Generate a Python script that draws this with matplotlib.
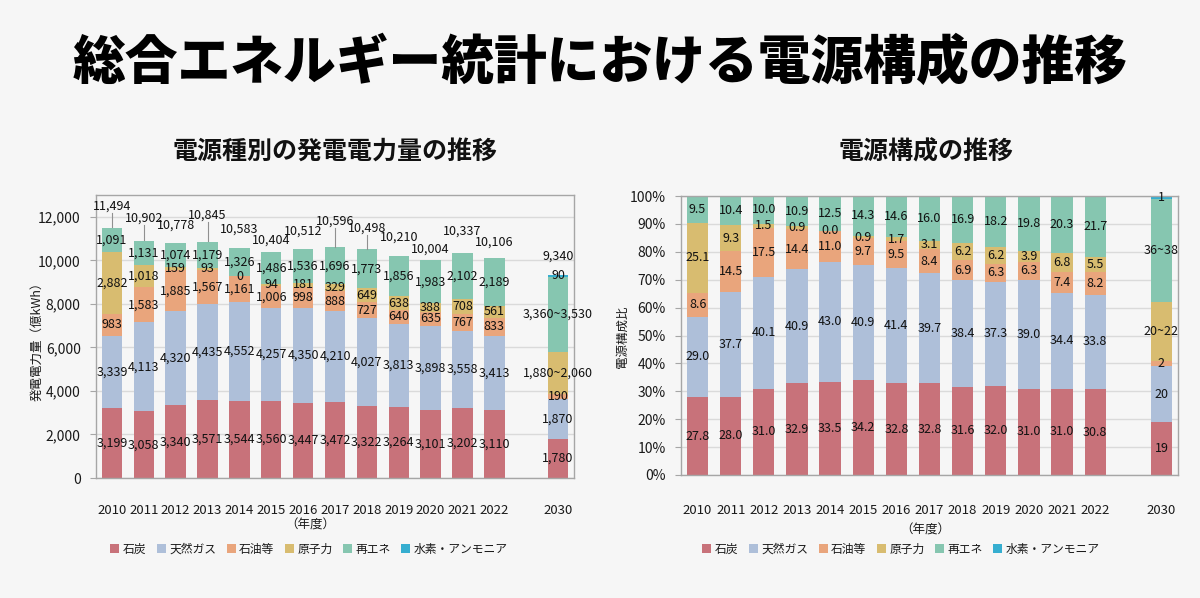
import numpy as np
import matplotlib.pyplot as plt
from matplotlib.patches import Patch

plt.rcParams['font.family'] = ['Noto Sans CJK JP', 'DejaVu Sans']

# Data
years = ['2010', '2011', '2012', '2013', '2014', '2015', '2016', '2017',
         '2018', '2019', '2020', '2021', '2022', '2030']
sources = ['石炭', '天然ガス', '石油等', '原子力', '再エネ', '水素・アンモニア']

# 発電電力量（億kWh）, 2030 ranges drawn at their mid value
coal_kwh = [3199, 3058, 3340, 3571, 3544, 3560, 3447, 3472, 3322, 3264, 3101, 3202, 3110, 1780]
gas_kwh = [3339, 4113, 4320, 4435, 4552, 4257, 4350, 4210, 4027, 3813, 3898, 3558, 3413, 1870]
oil_kwh = [983, 1583, 1885, 1567, 1161, 1006, 998, 888, 727, 640, 635, 767, 833, 190]
nuclear_kwh = [2882, 1018, 159, 93, 0, 94, 181, 329, 649, 638, 388, 708, 561, 1970]
renew_kwh = [1091, 1131, 1074, 1179, 1326, 1486, 1536, 1696, 1773, 1856, 1983, 2102, 2189, 3445]
h2_kwh = [0, 0, 0, 0, 0, 0, 0, 0, 0, 0, 0, 0, 0, 90]
total_kwh = [11494, 10902, 10778, 10845, 10583, 10404, 10512, 10596, 10498, 10210, 10004, 10337, 10106, 9340]
range_kwh_2030 = {3: '1,880~2,060', 4: '3,360~3,530'}

# 電源構成比（%）
coal_pct = [27.8, 28.0, 31.0, 32.9, 33.5, 34.2, 32.8, 32.8, 31.6, 32.0, 31.0, 31.0, 30.8, 19]
gas_pct = [29.0, 37.7, 40.1, 40.9, 43.0, 40.9, 41.4, 39.7, 38.4, 37.3, 39.0, 34.4, 33.8, 20]
oil_pct = [8.6, 14.5, 17.5, 14.4, 11.0, 9.7, 9.5, 8.4, 6.9, 6.3, 6.3, 7.4, 8.2, 2]
nuclear_pct = [25.1, 9.3, 1.5, 0.9, 0.0, 0.9, 1.7, 3.1, 6.2, 6.2, 3.9, 6.8, 5.5, 21]
renew_pct = [9.5, 10.4, 10.0, 10.9, 12.5, 14.3, 14.6, 16.0, 16.9, 18.2, 19.8, 20.3, 21.7, 37]
h2_pct = [0, 0, 0, 0, 0, 0, 0, 0, 0, 0, 0, 0, 0, 1]
range_pct_2030 = {3: '20~22', 4: '36~38'}

# styling
colors = ['#c8727a', '#aebfd9', '#e9a57c', '#d8bc70', '#86c6b0', '#36aed0']
bg = '#f6f6f6'
grid_c = '#dadada'
spine_c = '#a6a6a6'
x = np.array(list(range(13)) + [14])
bar_w = 0.64
# total label lift (data units) and whether a leader line is drawn
total_lift = [1000, 1050, 850, 1250, 850, 500, 850, 1200, 1000, 850, 500, 1000, 720, 850]
leader = [1, 1, 0, 1, 0, 0, 0, 1, 1, 0, 0, 0, 0, 0]

fig = plt.figure(figsize=(12, 5.98), dpi=100, facecolor=bg)

fig.text(0.5, 1 - 63 / 598, '総合エネルギー統計における電源構成の推移', ha='center', va='center',
         fontsize=38, fontweight='black', color='#000000')
fig.text(335 / 1200, 1 - 152 / 598, '電源種別の発電電力量の推移', ha='center', va='center',
         fontsize=18, fontweight='bold', color='#111111')
fig.text(926 / 1200, 1 - 152 / 598, '電源構成の推移', ha='center', va='center',
         fontsize=18, fontweight='bold', color='#111111')


def style_axes(ax, pad):
    ax.set_facecolor(bg)
    for s in ax.spines.values():
        s.set_color(spine_c)
        s.set_linewidth(1)
    ax.grid(axis='y', color=grid_c, lw=1)
    ax.set_axisbelow(True)
    ax.set_xlim(-0.5, 14.5)
    ax.set_xticks(x)
    ax.set_xticklabels(years)
    ax.tick_params(axis='x', length=0, pad=pad, labelsize=9.5, labelcolor='#1a1a1a')
    ax.tick_params(axis='y', length=4, color=spine_c, labelsize=10, labelcolor='#1a1a1a', pad=7)


def stacked(ax, series, fmt, ranges, fs):
    bottom = np.zeros(len(x))
    for k, vals in enumerate(series):
        vals = np.array(vals, dtype=float)
        ax.bar(x, vals, bar_w, bottom=bottom, color=colors[k], linewidth=0, zorder=2)
        for i in range(len(x)):
            if k == 5 and vals[i] == 0:
                continue
            if i == len(x) - 1 and k in ranges:
                txt = ranges[k]
            else:
                txt = fmt(vals[i], i)
            ax.text(x[i], bottom[i] + vals[i] / 2, txt, ha='center', va='center',
                    fontsize=fs, color='#111111', zorder=3)
        bottom += vals
    return bottom


# Left chart: 発電電力量
ax1 = fig.add_axes([96 / 1200, 1 - 478 / 598, (574 - 96) / 1200, (478 - 195) / 598])
style_axes(ax1, 19)
stacked(ax1, [coal_kwh, gas_kwh, oil_kwh, nuclear_kwh, renew_kwh, h2_kwh],
        lambda v, i: f'{int(round(v)):,}', range_kwh_2030, 9)
for i in range(len(x)):
    ax1.text(x[i], total_kwh[i] + total_lift[i], f'{total_kwh[i]:,}', ha='center', va='center',
             fontsize=9, color='#111111', zorder=3)
    if leader[i]:
        ax1.plot([x[i], x[i]], [total_kwh[i] + 30, total_kwh[i] + total_lift[i] - 330],
                 color='#909090', lw=0.8, zorder=3)
ax1.set_ylim(0, 13000)
ax1.set_yticks(range(0, 13000, 2000))
ax1.set_yticklabels([f'{v:,}' for v in range(0, 13000, 2000)])
fig.text(37 / 1200, 1 - 338 / 598, '発電電力量（億kWh）', rotation=90, ha='center', va='center',
         fontsize=9, color='#1a1a1a')
fig.text(310 / 1200, 1 - 525 / 598, '（年度）', ha='center', va='center', fontsize=9, color='#1a1a1a')

# Right chart: 電源構成比 (2030 values are whole percentages)
ax2 = fig.add_axes([681 / 1200, 1 - 475 / 598, (1178 - 681) / 1200, (475 - 196) / 598])
style_axes(ax2, 21)
stacked(ax2, [coal_pct, gas_pct, oil_pct, nuclear_pct, renew_pct, h2_pct],
        lambda v, i: f'{int(v)}' if i == len(x) - 1 else f'{v:.1f}', range_pct_2030, 9)
ax2.set_ylim(0, 100)
ax2.set_yticks(range(0, 101, 10))
ax2.set_yticklabels([f'{v}%' for v in range(0, 101, 10)])
fig.text(622 / 1200, 1 - 337 / 598, '電源構成比', rotation=90, ha='center', va='center',
         fontsize=9, color='#1a1a1a')
fig.text(925 / 1200, 1 - 530 / 598, '（年度）', ha='center', va='center', fontsize=9, color='#1a1a1a')

handles = [Patch(facecolor=c, edgecolor='none') for c in colors]
for cx in (309, 901):
    fig.legend(handles, sources, loc='center', bbox_to_anchor=(cx / 1200, 1 - 549 / 598),
               ncol=6, frameon=False, fontsize=8.5, handlelength=0.75, handleheight=0.75,
               handletextpad=0.3, columnspacing=0.9, labelcolor='#1a1a1a')

fig.savefig('out.png', dpi=100, facecolor=bg)
